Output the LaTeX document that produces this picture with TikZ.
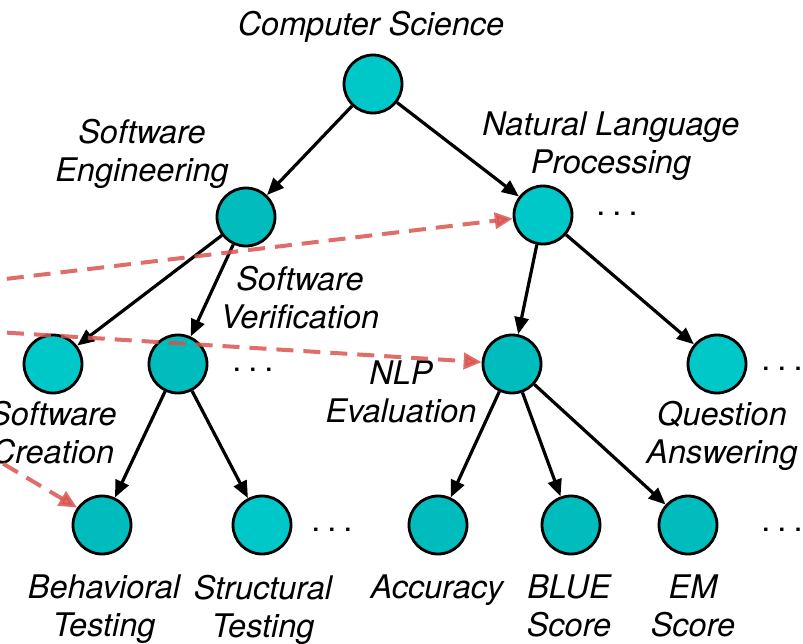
\documentclass[tikz,border=0pt]{standalone}
\usepackage{fontspec}
\setmainfont{TeX Gyre Heros}
\usetikzlibrary{arrows.meta}
\definecolor{tealA}{HTML}{00C8C8}
\definecolor{tealB}{HTML}{00BCBC}
\definecolor{dashred}{HTML}{D9534F}
\begin{document}
\begin{tikzpicture}[x=1pt,y=-1pt,
  topic/.style={circle,draw=black,line width=2.8pt,minimum size=58pt,inner sep=0pt},
  lt/.style={topic,fill=tealA},
  dk/.style={topic,fill=tealB},
  lbl/.style={font=\fontsize{32.5}{38}\selectfont\itshape,align=center,inner sep=0pt,anchor=north},
  more/.style={font=\fontsize{32.5}{38}\selectfont,inner sep=0pt,anchor=base},
  edge/.style={line width=3.2pt,-{Triangle[length=17pt,width=14pt]}},
  link/.style={draw=dashred,line width=4pt,dash pattern=on 17pt off 10pt,draw opacity=0.85,fill opacity=0.85,-{Triangle[length=18pt,width=16pt]}}
]
\clip (0,0) rectangle (803,643);
% nodes
\node[lt] (cs) at (373,84) {};
\node[dk] (se) at (246,217) {};
\node[lt] (nlp) at (543,215) {};
\node[lt] (sc) at (53,364) {};
\node[dk] (sv) at (178,364) {};
\node[dk] (ne) at (512,364) {};
\node[lt] (qa) at (717,364) {};
\node[dk] (bt) at (102,525) {};
\node[lt] (st) at (262,525) {};
\node[dk] (ac) at (438,525) {};
\node[dk] (bl) at (571,525) {};
\node[dk] (em) at (688,525) {};
% labels
\node[lbl] (lcs) at (371,11) {Computer Science};
\node[lbl] (lse) at (142,119) {Software\\Engineering};
\node[lbl] (lnlp) at (611,112) {Natural Language\\Processing};
\node[lbl] (lsv) at (300,266) {Software\\Verification};
\node[lbl] (lne) at (401,361) {NLP\\Evaluation};
\node[lbl] (lsc) at (53,401) {Software\\Creation};
\node[lbl] (lqa) at (722,401) {Question\\Answering};
\node[lbl] (lbt) at (104,575) {Behavioral\\Testing};
\node[lbl] (lst) at (263,575) {Structural\\Testing};
\node[lbl] (lac) at (437,575) {Accuracy};
\node[lbl] (lbl) at (569,575) {BLUE\\Score};
\node[lbl] (lem) at (693,575) {EM\\Score};
% dots
\node[more] (d1) at (253,371) {.\hspace{7pt}.\hspace{7pt}.};
\node[more] (d2) at (332,531) {.\hspace{7pt}.\hspace{7pt}.};
\node[more] (d3) at (617,215) {.\hspace{7pt}.\hspace{7pt}.};
\node[more] (d4) at (782,370) {.\hspace{7pt}.\hspace{7pt}.};
\node[more] (d5) at (782,531) {.\hspace{7pt}.\hspace{7pt}.};
% tree edges
\draw[edge] (cs) -- (se);
\draw[edge] (cs) -- (nlp);
\draw[edge] (se) -- (sc);
\draw[edge] (se) -- (sv);
\draw[edge] (nlp) -- (ne);
\draw[edge] (nlp) -- (qa);
\draw[edge] (sv) -- (bt);
\draw[edge] (sv) -- (st);
\draw[edge] (ne) -- (ac);
\draw[edge] (ne) -- (bl);
\draw[edge] (ne) -- (em);
% dashed links
\coordinate (s1) at (-20,282);
\coordinate (s2) at (-20,331);
\coordinate (s3) at (-20,450);
\draw[link] (s1) -- (nlp);
\draw[link] (s2) -- (ne);
\draw[link] (s3) -- (bt.145);
\end{tikzpicture}
\end{document}
